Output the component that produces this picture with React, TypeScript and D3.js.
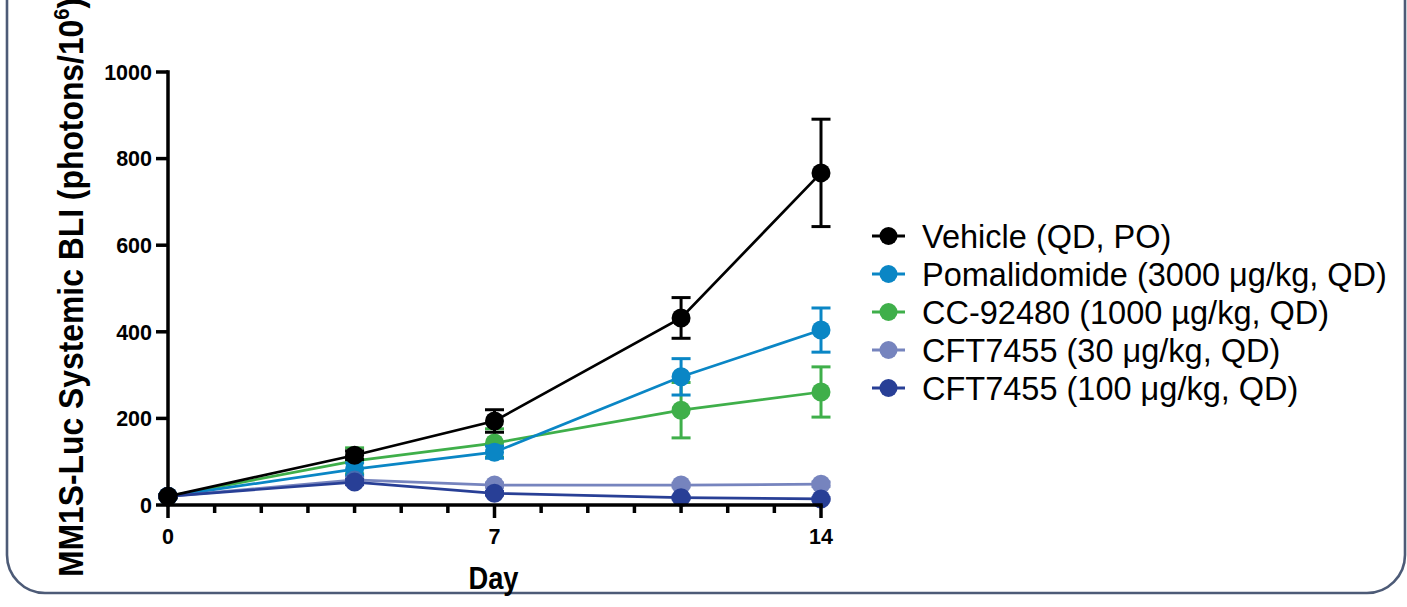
import React from "react";
import * as d3 from "d3";

// Days on which BLI was measured
const days = [0, 4, 7, 11, 14];

// Mean BLI per group (photons/10^6) and error
const vehicleMean = [20, 115, 194, 432, 767];
const vehicleErr = [4, 10, 26, 47, 124];
const pomalidomideMean = [20, 83, 122, 296, 404];
const pomalidomideErr = [3, 14, 14, 42, 51];
const cc92480Mean = [20, 102, 143, 219, 261];
const cc92480Err = [3, 30, 33, 64, 58];
const cft30Mean = [20, 58, 46, 46, 48];
const cft30Err = [3, 6, 5, 4, 5];
const cft100Mean = [20, 53, 27, 17, 14];
const cft100Err = [3, 6, 4, 3, 3];

const xTicksMajor = [0, 7, 14];
const xTicksMinor = d3.range(0, 15);
const yTicks = [0, 200, 400, 600, 800, 1000];

type Series = {
  name: string;
  label: string;
  mean: number[];
  err: number[];
  color: string;
  opacity: number;
};

const mu = "\u03bc";

const vehicle: Series = { name: "vehicle", label: "Vehicle (QD, PO)", mean: vehicleMean, err: vehicleErr, color: "#000000", opacity: 1 };
const pomalidomide: Series = { name: "pom", label: `Pomalidomide (3000 ${mu}g/kg, QD)`, mean: pomalidomideMean, err: pomalidomideErr, color: "#0a86c5", opacity: 1 };
const cc92480: Series = { name: "cc", label: "CC-92480 (1000 \u00b5g/kg, QD)", mean: cc92480Mean, err: cc92480Err, color: "#3faf4a", opacity: 1 };
const cft30: Series = { name: "cft30", label: `CFT7455 (30 ${mu}g/kg, QD)`, mean: cft30Mean, err: cft30Err, color: "#5566ae", opacity: 0.8 };
const cft100: Series = { name: "cft100", label: `CFT7455 (100 ${mu}g/kg, QD)`, mean: cft100Mean, err: cft100Err, color: "#283f96", opacity: 1 };

// legend order
const legendSeries = [vehicle, pomalidomide, cc92480, cft30, cft100];
// drawing order (last on top)
const drawSeries = [cc92480, pomalidomide, cft30, cft100, vehicle];

export default function App() {
  const W = 1407;
  const H = 607;
  const x = d3.scaleLinear().domain([0, 14]).range([168, 821]);
  const y = d3.scaleLinear().domain([0, 1000]).range([505, 72]);
  const line = d3
    .line<number>()
    .x((_, i) => x(days[i]))
    .y((d) => y(d));

  const font = "'Liberation Sans', Arial, Helvetica, sans-serif";
  const r = 9.5;
  const capHalf = 9.5;

  // panel frame: open at the top, rounded bottom corners
  const fl = 7, fr = 1405, fb = 593, fr_ = 38;
  const framePath = `M${fl},-5 L${fl},${fb - fr_} A${fr_},${fr_} 0 0 0 ${fl + fr_},${fb} L${fr - fr_},${fb} A${fr_},${fr_} 0 0 0 ${fr},${fb - fr_} L${fr},-5`;

  return (
    <svg width={W} height={H} style={{ position: "absolute", left: 0, top: 0 }} fontFamily={font}>
      <rect x={0} y={0} width={W} height={H} fill="#ffffff" />
      <path d={framePath} fill="none" stroke="#4d5b77" strokeWidth={2.6} />

      {/* series */}
      {drawSeries.map((s) => (
        <g key={s.name} opacity={s.opacity}>
          <path d={line(s.mean) ?? ""} fill="none" stroke={s.color} strokeWidth={2.7} />
          {s.mean.map((m, i) => {
            const cx = x(days[i]);
            const top = y(m + s.err[i]);
            const bot = y(m - s.err[i]);
            return (
              <g key={i}>
                <line x1={cx} x2={cx} y1={top} y2={bot} stroke={s.color} strokeWidth={3} />
                <line x1={cx - capHalf} x2={cx + capHalf} y1={top} y2={top} stroke={s.color} strokeWidth={3} />
                <line x1={cx - capHalf} x2={cx + capHalf} y1={bot} y2={bot} stroke={s.color} strokeWidth={3} />
                <circle cx={cx} cy={y(m)} r={r} fill={s.color} />
              </g>
            );
          })}
        </g>
      ))}

      {/* y axis */}
      <line x1={168} x2={168} y1={y(1000) - 1.7} y2={y(0) + 1.7} stroke="#000" strokeWidth={3.5} />
      {yTicks.map((t) => (
        <g key={t}>
          <line x1={156} x2={168} y1={y(t)} y2={y(t)} stroke="#000" strokeWidth={3.5} />
          <text x={152} y={y(t)} dy="0.36em" textAnchor="end" fontSize={21.5} fontWeight="bold">
            {t}
          </text>
        </g>
      ))}

      {/* x axis */}
      <line x1={x(0) - 1.7} x2={x(14) + 1.7} y1={y(0)} y2={y(0)} stroke="#000" strokeWidth={3.5} />
      {xTicksMinor.map((t) => {
        const major = xTicksMajor.includes(t);
        return (
          <line key={t} x1={x(t)} x2={x(t)} y1={y(0)} y2={y(0) + (major ? 13 : 8)} stroke="#000" strokeWidth={3.5} />
        );
      })}
      {xTicksMajor.map((t) => (
        <text key={t} x={x(t)} y={544} textAnchor="middle" fontSize={21.5} fontWeight="bold">
          {t}
        </text>
      ))}

      {/* axis titles */}
      <text transform={`translate(${x(7) - 1},589) scale(0.88,1)`} textAnchor="middle" fontSize={31} fontWeight="bold">
        Day
      </text>
      <text transform="translate(83,577) rotate(-90) scale(0.91,1)" textAnchor="start" fontSize={35} fontWeight="bold">
        MM1S-Luc Systemic BLI (photons/10
        <tspan fontSize={22} dy={-14}>6</tspan>
        <tspan dy={14}>)</tspan>
      </text>

      {/* legend */}
      {legendSeries.map((s, i) => {
        const cy = 236 + i * 38;
        return (
          <g key={s.name}>
            <g opacity={s.opacity}>
              <line x1={872} x2={905} y1={cy} y2={cy} stroke={s.color} strokeWidth={3} />
              <circle cx={888.5} cy={cy} r={9} fill={s.color} />
            </g>
            <text x={922} y={cy} dy="0.36em" fontSize={32.5}>
              {s.label}
            </text>
          </g>
        );
      })}
    </svg>
  );
}
